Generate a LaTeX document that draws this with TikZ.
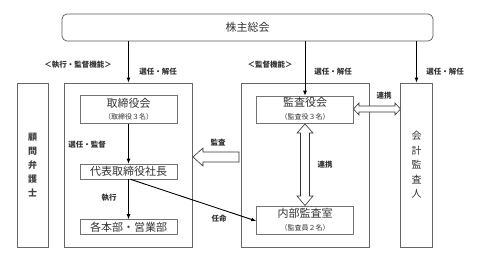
\documentclass[tikz,border=0pt]{standalone}
\usepackage{fontspec}
\setmainfont{Noto Sans CJK JP}
\usetikzlibrary{arrows.meta,calc}
\begin{document}
\begin{tikzpicture}[x=1pt,y=-1pt,
  outer/.style={draw=black!60,line width=0.8pt,minimum width=#1},
  inner/.style={draw=black!55,line width=0.6pt,minimum width=97pt,inner sep=0pt,align=center},
  lbl/.style={font=\fontsize{7.5}{8}\selectfont\bfseries,text=black!80,inner sep=0pt},
  sub/.style={font=\fontsize{7}{8}\selectfont,text=black!80,inner sep=0pt},
  big/.style={font=\fontsize{11}{12}\selectfont,text=black!80},
  arr/.style={-{Latex[length=5pt,width=4pt]},line width=0.9pt},
  hollow/.style={draw=black!80,line width=0.6pt,fill=white}]
\useasboundingbox (0,0) rectangle (482,262);
% top
\node[draw=black!65,line width=0.7pt,rounded corners=5pt,minimum width=371pt,minimum height=27pt,inner sep=0pt,
      font=\fontsize{11}{12}\selectfont,text=black!80] (soukai) at (247.5,27.5) {株主総会};
% outer boxes
\node[outer=31pt,minimum height=164pt,inner sep=0pt] (komon) at (32.5,165) {};
\node[outer=128pt,minimum height=164pt,inner sep=0pt] (lbox) at (128.5,165) {};
\node[outer=128pt,minimum height=164pt,inner sep=0pt] (mbox) at (305,165) {};
\node[outer=32pt,minimum height=164pt,inner sep=0pt] (kaikei) at (416.5,165) {};
\node[font=\fontsize{9}{14}\selectfont\bfseries,text=black!75,align=center] at (komon.center) {顧\\問\\弁\\護\\士};
\node[font=\fontsize{10}{14.5}\selectfont,text=black!80,align=center] at (kaikei.center) {会\\計\\監\\査\\人};
% inner boxes
\node[inner,minimum height=28pt] (tori) at (128.5,109.5) {};
\node[big,inner sep=0pt] at (128.5,103) {取締役会};
\node[sub] at (128.5,117) {（取締役３名）};
\node[inner,minimum height=15pt,big] (daihyo) at (128.5,171.5) {代表取締役社長};
\node[inner,minimum height=15pt,big] (kakubu) at (128.5,227) {各本部・営業部};
\node[inner,minimum height=27pt] (kansayaku) at (305,109.5) {};
\node[big,inner sep=0pt] at (305,102.5) {監査役会};
\node[sub] at (305,116.5) {（監査役３名）};
\node[inner,minimum height=28pt] (naibu) at (305,220) {};
\node[big,inner sep=0pt] at (305,213.5) {内部監査室};
\node[sub] at (305,227.5) {（監査員２名）};
% labels
\node[lbl] at (78,65) {＜執行・監督機能＞};
\node[lbl] at (158,72) {選任・解任};
\node[lbl] at (270,65) {＜監督機能＞};
\node[lbl] at (333,72) {選任・解任};
\node[lbl] at (445,72) {選任・解任};
\node[lbl] at (87,145) {選任・監督};
\node[lbl] at (109,198) {執行};
\node[lbl] at (219,219) {任命};
\node[lbl] at (218,143) {監査};
\node[lbl] at (325,165) {連携};
\node[lbl] at (384,96) {連携};
% arrows
\draw[arr] (soukai.south -| lbox.north) -- (lbox.north);
\draw[arr] (soukai.south -| kansayaku.north) -- (kansayaku.north);
\draw[arr] (soukai.south -| kaikei.north) -- (kaikei.north);
\draw[arr] (tori.south) -- (daihyo.north);
\draw[arr] (daihyo.south) -- (kakubu.north);
\coordinate (ninmei) at ($(daihyo.south)+(2,0)$);
\draw[arr] (ninmei) -- ($(naibu.west)+(0,1)$);
% hollow arrows
\draw[hollow] (193,157) -- (203,148) -- (203,152) -- (239,152) -- (239,162) -- (203,162) -- (203,166) -- cycle;
\draw[hollow] (353.5,109) -- (359,103) -- (359,106) -- (395,106) -- (395,103) -- (400.5,109) -- (395,115) -- (395,112) -- (359,112) -- (359,115) -- cycle;
\draw[hollow] (305,124) -- (313,133) -- (309.5,133) -- (309.5,196) -- (313,196) -- (305,205.5) -- (297,196) -- (300.5,196) -- (300.5,133) -- (297,133) -- cycle;
\end{tikzpicture}
\end{document}
